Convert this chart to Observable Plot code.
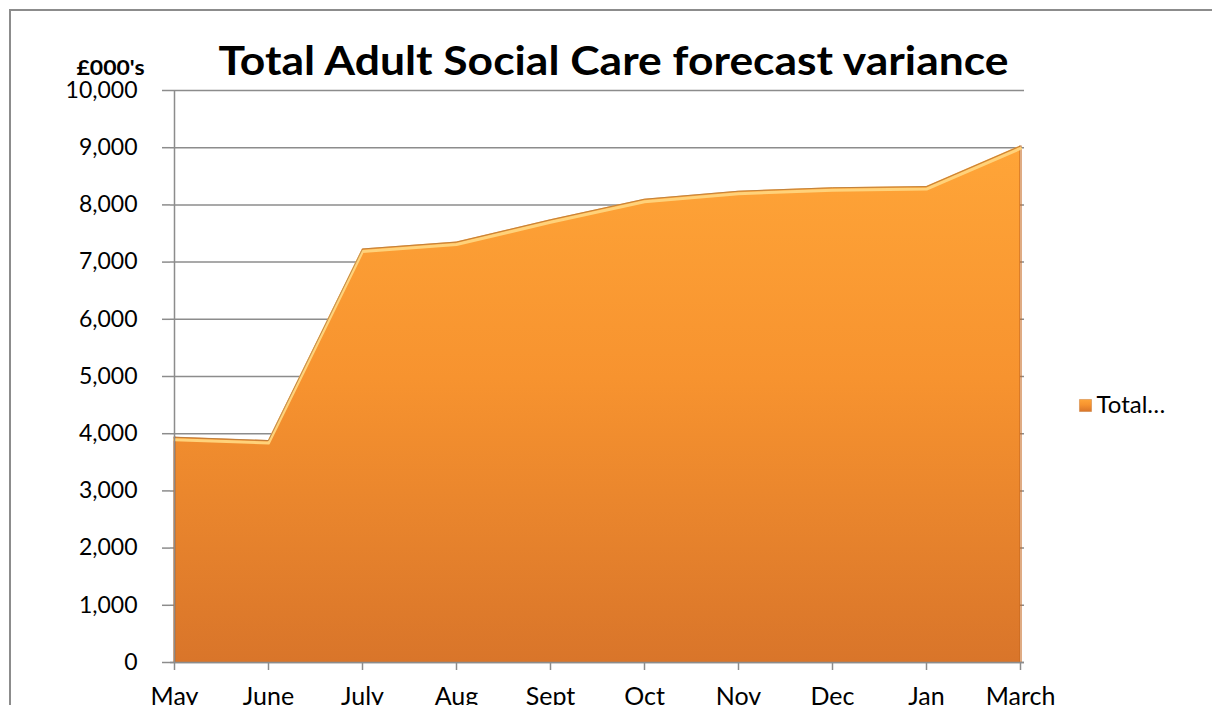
<!DOCTYPE html>
<html>
<head>
<meta charset="utf-8">
<script src="https://cdn.jsdelivr.net/npm/d3@7"></script>
<script src="https://cdn.jsdelivr.net/npm/@observablehq/plot@0.6"></script>
<style>
  html, body { margin: 0; padding: 0; background: #fff; overflow: hidden; }
  #wrap { position: relative; width: 1212px; height: 705px; overflow: hidden; }
  .edge { position: absolute; background: #8c8c8c; pointer-events: none; }
  #chart { position: absolute; left: 0; top: 0; }
</style>
</head>
<body>
<div id="wrap">
  <div id="chart"></div>
  <div class="edge" style="left:9px; top:9px; width:1203px; height:2px;"></div>
  <div class="edge" style="left:9px; top:9px; width:2px; height:696px;"></div>
</div>
<script>
const title = "Total Adult Social Care forecast variance";
const unitLabel = "£000's";
const seriesName = "Total…";
const months = ["May", "June", "July", "Aug", "Sept", "Oct", "Nov", "Dec", "Jan", "March"];
const values = [3940, 3880, 7230, 7350, 7740, 8100, 8240, 8300, 8320, 9030];
const yTicks = [0, 1000, 2000, 3000, 4000, 5000, 6000, 7000, 8000, 9000, 10000];

const data = months.map((m, i) => ({month: m, value: values[i]}));
const ends = [data[0], data[data.length - 1]];
const grid = "#8c8c8c";

const defs = () => {
  const d = d3.create("svg:defs");
  const g = d.append("linearGradient").attr("id", "areaGrad")
    .attr("x1", 0).attr("y1", 0).attr("x2", 0).attr("y2", 1);
  g.append("stop").attr("offset", "0%").attr("stop-color", "#FFA538");
  g.append("stop").attr("offset", "45%").attr("stop-color", "#F7932F");
  g.append("stop").attr("offset", "100%").attr("stop-color", "#D9752A");
  return d.node();
};

const chart = Plot.plot({
  width: 1212,
  height: 705,
  marginLeft: 170,
  marginRight: 188,
  marginTop: 90,
  marginBottom: 43,
  style: {fontFamily: "Lato, 'Open Sans', sans-serif", fontSize: "23px", color: "#000", background: "transparent"},
  x: {type: "point", domain: months, padding: 0, range: [170, 1024], label: null},
  y: {domain: [0, 10000], range: [662, 90], label: null},
  marks: [
    defs,
    Plot.gridY(yTicks, {stroke: grid, strokeOpacity: 1, strokeWidth: 1.5}),
    Plot.areaY(data, {x: "month", y: "value", fill: "url(#areaGrad)"}),
    Plot.ruleX(ends, {x: "month", y1: 0, y2: "value", stroke: "#C4661E", strokeOpacity: 0.55, strokeWidth: 3}),
    Plot.lineY(data, {x: "month", y: "value", stroke: "#FFD27A", strokeWidth: 3, dy: 2.5}),
    Plot.lineY(data, {x: "month", y: "value", stroke: "#a7753f", strokeOpacity: 0.7, strokeWidth: 1}),
    Plot.ruleX([months[0]], {stroke: grid, strokeWidth: 1.5}),
    Plot.ruleY([0], {stroke: grid, strokeWidth: 1.5}),
    Plot.axisY({ticks: yTicks, tickSize: 8, tickPadding: 25, tickFormat: d3.format(","), stroke: grid, strokeWidth: 1.5, fontSize: 23, label: null}),
    Plot.axisX({tickSize: 8, tickPadding: 17, stroke: grid, strokeWidth: 1.5, fontSize: 25, label: null}),
    Plot.text([title], {frameAnchor: "top", dx: 16, dy: -28, fontSize: 40, fontWeight: "bold", fill: "#000", lineAnchor: "middle", className: "chart-title"}),
    Plot.text([unitLabel], {frameAnchor: "top-left", dx: -94, dy: -22, fontSize: 21, fontWeight: "bold", fill: "#000", lineAnchor: "middle", className: "unit-label"}),
    Plot.dot([seriesName], {frameAnchor: "right", dx: 61, dy: 29, symbol: "square", r: 6.8, fill: "url(#areaGrad)", stroke: "#C97D3A", strokeWidth: 0.5}),
    Plot.text([seriesName], {frameAnchor: "right", dx: 72, dy: 29, fontSize: 24, fill: "#000", textAnchor: "start", lineAnchor: "middle"})
  ]
});
// stretch the title and unit label to the reference's widths
d3.select(chart).selectAll("g.chart-title text")
  .attr("textLength", 790).attr("lengthAdjust", "spacingAndGlyphs");
d3.select(chart).selectAll("g.unit-label text")
  .attr("textLength", 68).attr("lengthAdjust", "spacingAndGlyphs");
document.getElementById("chart").appendChild(chart);
</script>
</body>
</html>
